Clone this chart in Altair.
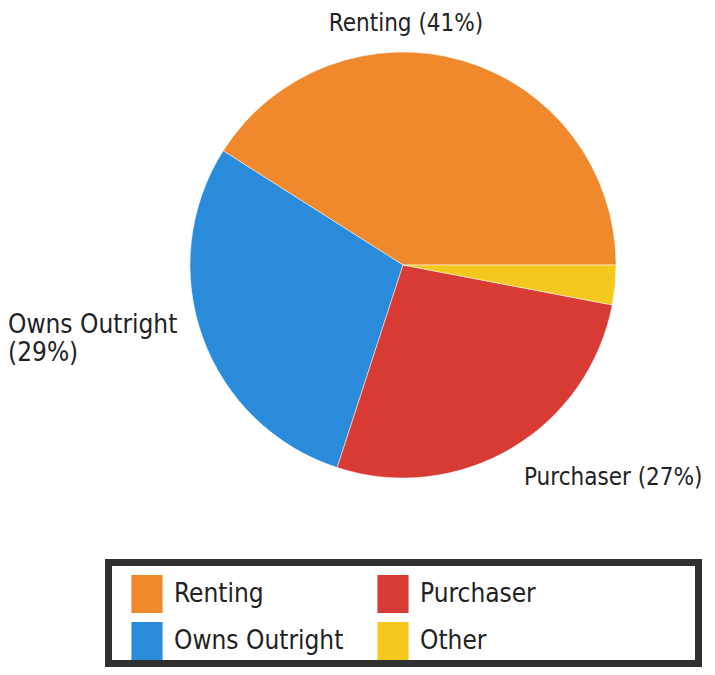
import math
import altair as alt
import pandas as pd

# ---- data ----
categories = ["Renting", "Owns Outright", "Purchaser", "Other"]
percent = [41, 29, 27, 3]
legend_order = ["Renting", "Purchaser", "Owns Outright", "Other"]
stack_order = ["Other", "Purchaser", "Owns Outright", "Renting"]
colors = {"Renting": "#F0882C", "Owns Outright": "#2B8BDB",
          "Purchaser": "#D83A34", "Other": "#F5C81E"}
label_text = {
    "Renting": "Renting (41%)",
    "Owns Outright": "Owns Outright\n(29%)",
    "Purchaser": "Purchaser (27%)",
    "Other": "",
}

df = pd.DataFrame({
    "category": categories,
    "percent": percent,
    "ord": [stack_order.index(c) for c in categories],
    "label": [label_text[c] for c in categories],
})

FONT = "'DejaVu Sans Condensed', 'DejaVu Sans'"
CX, CY, R = 395, 257, 213

base = alt.Chart(df)

pie = base.mark_arc(radius=R, stroke="white", strokeWidth=0.5).encode(
    theta=alt.Theta("percent:Q", stack=True,
                    scale=alt.Scale(range=[math.pi / 2, math.pi / 2 + 2 * math.pi])),
    order=alt.Order("ord:Q"),
    color=alt.Color(
        "category:N",
        scale=alt.Scale(domain=legend_order, range=[colors[c] for c in legend_order]),
        legend=alt.Legend(
            title=None, orient="none", legendX=120, legendY=567,
            direction="horizontal", columns=2,
            symbolType="M-0.82,-1L0.82,-1L0.82,1L-0.82,1Z",
            symbolSize=1444, symbolStrokeWidth=0, symbolOpacity=1,
            labelFont=FONT, labelFontSize=26, labelColor="#222222",
            labelOffset=8, columnPadding=30, rowPadding=9, padding=0,
            labelLimit=400,
        ),
    ),
    x=alt.value(CX),
    y=alt.value(CY),
)

box = alt.Chart(pd.DataFrame({"k": [0]})).mark_rect(
    fill="white", stroke="#303030", strokeWidth=7
).encode(x=alt.value(100.5), x2=alt.value(690.5), y=alt.value(554.5), y2=alt.value(655.5))


def lab(cat, x, y, align, size):
    return base.transform_filter(alt.datum.category == cat).mark_text(
        font=FONT, fontSize=size, color="#222222", align=align,
        baseline="alphabetic", lineBreak="\n", lineHeight=28,
    ).encode(text="label:N", x=alt.value(x), y=alt.value(y))


chart = alt.layer(
    box,
    pie,
    lab("Renting", 398, 23, "center", 24),
    lab("Owns Outright", 0, 325, "left", 26),
    lab("Purchaser", 516, 477, "left", 24),
).properties(
    width=699, height=659, padding=0, autosize="none",
).configure_view(stroke=None)

chart.save("out.html", embed_options={"renderer": "svg", "actions": False})
